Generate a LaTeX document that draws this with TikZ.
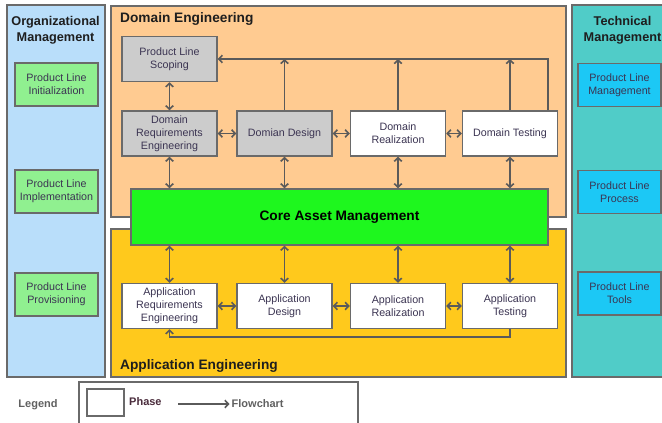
\documentclass[tikz,border=0pt]{standalone}
\usepackage{fontspec}
\setmainfont{Liberation Sans}
\usetikzlibrary{arrows.meta}

\definecolor{orgblue}{HTML}{B9DEFA}
\definecolor{domorange}{HTML}{FFCB91}
\definecolor{appgold}{HTML}{FFC91C}
\definecolor{techteal}{HTML}{50CCC8}
\definecolor{coregreen}{HTML}{1EF71E}
\definecolor{plgreen}{HTML}{90F090}
\definecolor{plblue}{HTML}{1CC8F5}
\definecolor{phasegray}{HTML}{CCCCCC}
\definecolor{edgegray}{HTML}{6A6A6A}
\definecolor{arrowgray}{HTML}{5A5A5A}
\definecolor{boxtext}{HTML}{3B3452}
\definecolor{titletext}{HTML}{1E1E1E}
\definecolor{legendgray}{HTML}{606060}
\definecolor{phasered}{HTML}{4A2C3C}

\begin{document}
\begin{tikzpicture}[x=1pt,y=-1pt,  % pixel-like units, y downwards
    panel/.style={
      draw=edgegray,
      line width=1.5pt,
      inner sep=0pt
    },
    phasebox/.style={
      draw=edgegray,
      line width=1.5pt,
      fill=white,
      minimum width=95,
      minimum height=45,
      align=center,
      inner sep=1pt,
      text=boxtext,
      font=\fontsize{10.7}{13.2}\selectfont
    },
    grayphase/.style={
      phasebox,
      fill=phasegray
    },
    sidebox/.style={
      phasebox,
      minimum width=83,
      minimum height=43
    },
    paneltitle/.style={
      align=center,
      inner sep=0pt,
      text=titletext,
      font=\fontsize{12.7}{16}\selectfont\bfseries
    },
    bigtitle/.style={
      inner sep=0pt,
      text=titletext,
      font=\fontsize{13.7}{16}\selectfont\bfseries
    },
    legendtext/.style={
      inner sep=2pt,
      text=legendgray,
      font=\fontsize{11}{13}\selectfont\bfseries
    },
    flowarrow/.style={
      draw=arrowgray,
      line width=1.6pt,
      >={Straight Barb[length=3.5pt,width=7.5pt]}
    }
  ]

    \clip (0,0) rectangle (662,423);

    % Panels
    \node[panel,fill=orgblue,minimum width=98,minimum height=372] (org) at (56,191) {};
    \node[panel,fill=domorange,minimum width=455,minimum height=211] (dom) at (338.5,111.5) {};
    \node[panel,fill=appgold,minimum width=455,minimum height=148] (app) at (338.5,303) {};
    \node[panel,fill=techteal,minimum width=98,minimum height=372] (tech) at (621,191) {};

    % Panel titles
    \node[paneltitle,anchor=north] (orgt) at (55.5,16.5) {Organizational\\Management};
    \node[paneltitle,anchor=north] (techt) at (622.5,16.5) {Technical\\Management};
    \node[bigtitle,anchor=base west] (domt) at (120,22.5) {Domain Engineering};
    \node[bigtitle,anchor=base west] (appt) at (120,369.5) {Application Engineering};

    % Organizational and technical boxes
    \foreach \n/\y/\t in {init/84.5/Initialization,impl/191.5/Implementation,prov/294.5/Provisioning} {
      \node[sidebox,fill=plgreen] (\n) at (56.5,\y) {Product Line\\\t};
    }
    \foreach \n/\y/\t in {mgmt/85/Management,proc/192/Process,tools/293.5/Tools} {
      \node[sidebox,fill=plblue] (\n) at (619.5,\y) {Product Line\\\t};
    }

    % Core asset management
    \node[panel,fill=coregreen,minimum width=417,minimum height=56,
      text=black,font=\fontsize{13.7}{16}\selectfont\bfseries] (core) at (339.5,217)
      {Core Asset Management};

    % Domain engineering phases
    \node[grayphase] (pls) at (169.5,59) {Product Line\\Scoping};
    \node[grayphase] (dreq) at (169.5,133.5) {Domain\\Requirements\\Engineering};
    \node[grayphase] (ddes) at (284.5,133.5) {Domian Design};
    \node[phasebox] (dreal) at (398,133.5) {Domain\\Realization};
    \node[phasebox] (dtest) at (510,133.5) {Domain Testing};

    % Application engineering phases
    \node[phasebox] (areq) at (169.5,306) {Application\\Requirements\\Engineering};
    \node[phasebox] (ades) at (284.5,306) {Application\\Design};
    \node[phasebox] (areal) at (398,306) {Application\\Realization};
    \node[phasebox] (atest) at (510,306) {Application\\Testing};

    % Flow between phases
    \draw[flowarrow,<->] (pls) -- (dreq);
    \foreach \a/\b in {dreq/ddes,ddes/dreal,dreal/dtest,areq/ades,ades/areal,areal/atest} {
      \draw[flowarrow,<->] (\a) -- (\b);
    }
    \foreach \n in {dreq,ddes,dreal,dtest} {
      \draw[flowarrow,<->] (\n) -- (\n |- core.north);
    }
    \foreach \n in {areq,ades,areal,atest} {
      \draw[flowarrow,<->] (\n |- core.south) -- (\n);
    }

    % Feedback loops
    \draw[flowarrow,->] ([xshift=-10]dtest.north east) |- (pls.east);
    \foreach \n in {ddes,dreal,dtest} {
      \draw[flowarrow,->] (\n) -- (\n |- pls.east);
    }
    \coordinate (fb) at (0,337);
    \draw[flowarrow,->] (atest) -- (atest |- fb) -| (areq);

    % Legend
    \node[legendtext] (leg) at (38,404.5) {Legend};
    \node[panel,fill=white,minimum width=279,minimum height=50,anchor=north west] (lbox) at (78,381) {};
    \node[panel,fill=white,minimum width=37,minimum height=27] (lphase) at (105.5,402.5) {};
    \node[legendtext,text=phasered,anchor=west] (lphtxt) at (127,402) {Phase};
    \coordinate (lgA) at (178,404);
    \node[legendtext,anchor=west] (lflow) at (229.5,404) {Flowchart};
    \draw[flowarrow,->] (lgA) -- (lflow);

  \end{tikzpicture}
\end{document}
